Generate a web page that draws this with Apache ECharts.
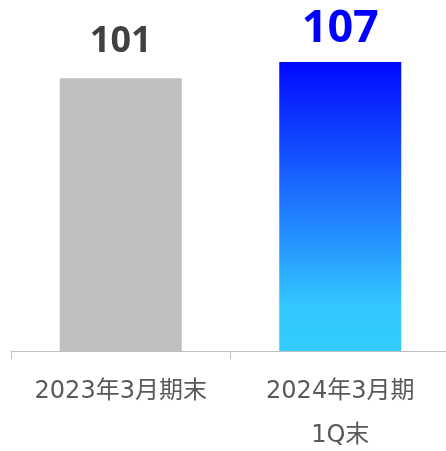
<!DOCTYPE html>
<html>
<head>
<meta charset="utf-8">
<script src="https://cdn.jsdelivr.net/npm/echarts@6/dist/echarts.min.js"></script>
<style>
html,body{margin:0;padding:0;background:#fff;}
#chart{width:446px;height:451px;}
</style>
</head>
<body>
<div id="chart"></div>
<script>
const categories = ['2023年3月期末', '2024年3月期\n1Q末'];
const values = [101, 107];

const chart = echarts.init(document.getElementById('chart'), null, {renderer: 'canvas'});
const blueGrad = new echarts.graphic.LinearGradient(0, 0, 0, 1, [
  {offset: 0, color: '#0008ff'},
  {offset: 0.85, color: '#33c8ff'},
  {offset: 1, color: '#33ccff'}
]);
const itemStyles = [
  {color: '#bfbfbf'},
  {color: blueGrad}
];
const labelStyles = [
  {color: '#404040', fontSize: 36, distance: 19},
  {color: '#0000ff', fontSize: 45, distance: 10}
];
chart.setOption({
  animation: false,
  grid: {left: 11, right: -4, top: 0, bottom: 100, containLabel: false, outerBoundsMode: 'none'},
  xAxis: {
    type: 'category',
    data: categories,
    axisLine: {lineStyle: {color: '#bfbfbf', width: 1}},
    axisTick: {show: true, length: 8, lineStyle: {color: '#bfbfbf'}},
    axisLabel: {
      interval: 0,
      margin: 19,
      color: '#595959',
      fontSize: 24,
      lineHeight: 44,
      fontFamily: '"DejaVu Sans", "Noto Sans CJK JP", sans-serif'
    }
  },
  yAxis: {
    type: 'value', min: 0, max: 130, show: false,
    splitLine: {show: false}
  },
  series: [{
    type: 'bar',
    barWidth: 122,
    data: values.map((v, i) => ({
      value: v,
      itemStyle: itemStyles[i],
      label: {
        show: true,
        position: 'top',
        fontWeight: 'bold',
        fontFamily: '"Noto Sans", sans-serif',
        color: labelStyles[i].color,
        fontSize: labelStyles[i].fontSize,
        distance: labelStyles[i].distance
      }
    }))
  }]
});
</script>
</body>
</html>
